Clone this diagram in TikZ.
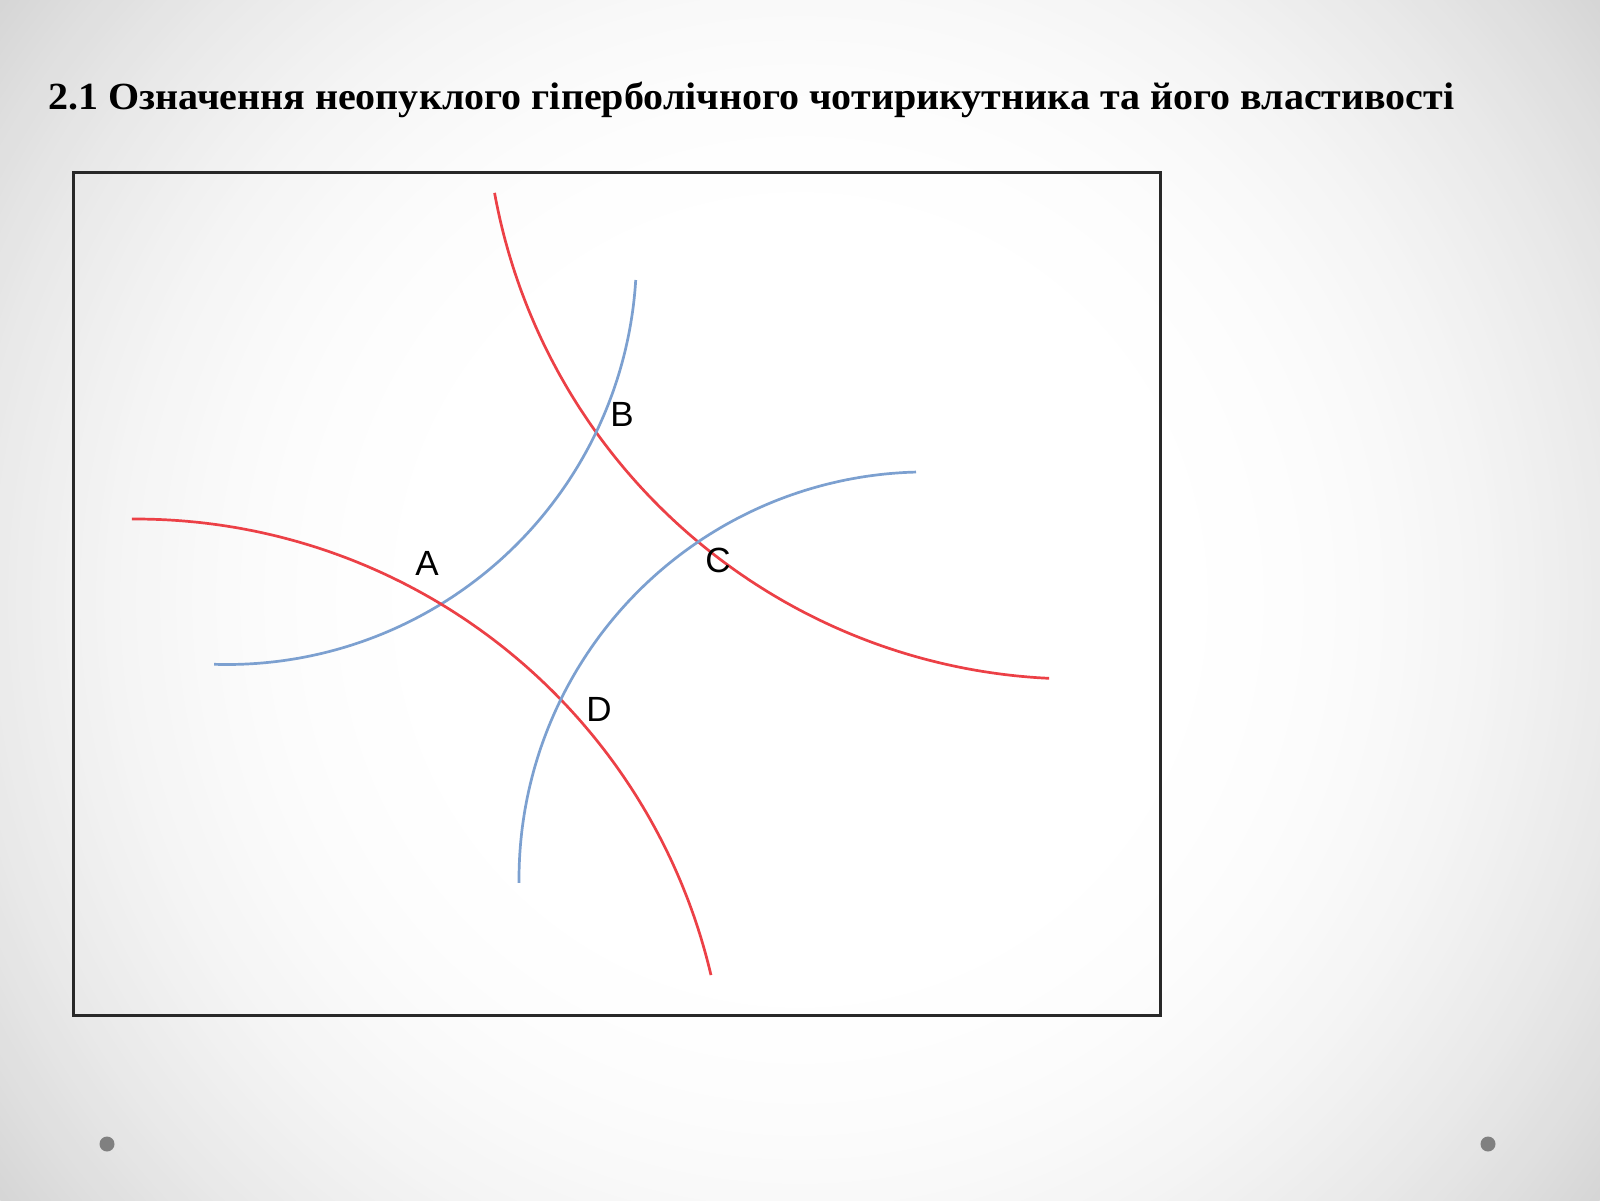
\documentclass[tikz,border=0pt]{standalone}
\usepackage{fontspec}
\setmainfont{Liberation Serif}
\newfontfamily\labelfont{Liberation Sans}
\begin{document}
\begin{tikzpicture}[x=0.5pt,y=-0.5pt,
  redarc/.style={draw={rgb,255:red,236;green,64;blue,70}, line width=1.35pt},
  bluearc/.style={draw={rgb,255:red,124;green,160;blue,208}, line width=1.35pt},
  ptlabel/.style={font=\labelfont\fontsize{17.5}{17.5}\selectfont, inner sep=0pt},
  dotmark/.style={fill={rgb,255:red,128;green,128;blue,128}}]
\useasboundingbox (0,0) rectangle (1600,1200);
% slide background: radial gradient, white centre to light grey corners
\begin{scope}
\clip (0,0) rectangle (1600,1200);
\fill[black!16] (0,0) rectangle (1600,1200);
\foreach \d in {1000,992,...,352} {
  \pgfmathsetmacro\p{16*((\d-350)/650)^2}
  \fill[black!\p] (800,600) circle (\d);
}
\fill[white] (800,600) circle (350);
\end{scope}
% title
\node[anchor=base west, inner sep=0pt, font=\bfseries\fontsize{19.2}{22}\selectfont] (title) at (48,109)
  {\scalebox{1.042}[1]{2.1 Означення неопуклого гіперболічного чотирикутника та його властивості}};
% frame
\draw[line width=1.5pt, draw={rgb,255:red,40;green,40;blue,40}] (73.5,172.5) rectangle (1160,1015);
% arcs
\draw[redarc] plot[domain=92.7:169.7, samples=120, smooth] ({1077+592*cos(\x)}, {87+592*sin(\x)});
\draw[bluearc] plot[domain=3.5:91.8, samples=120, smooth] ({227+409.5*cos(\x)}, {255+409.5*sin(\x)});
\draw[redarc] plot[domain=-90.35:-13.2, samples=120, smooth] ({135.6+591*cos(\x)}, {1110+591*sin(\x)});
\draw[bluearc] plot[domain=179.47:268.55, samples=120, smooth] ({926.3+407.3*cos(\x)}, {879.2+407.3*sin(\x)});
% labels
\node[ptlabel] (A) at (427,563) {A};
\node[ptlabel] (B) at (622,414) {B};
\node[ptlabel] (C) at (718,560) {C};
\node[ptlabel] (D) at (599,709) {D};
% slide dots
\fill[dotmark] (107,1144) circle (7.5);
\fill[dotmark] (1488,1144) circle (7.5);
\end{tikzpicture}
\end{document}
